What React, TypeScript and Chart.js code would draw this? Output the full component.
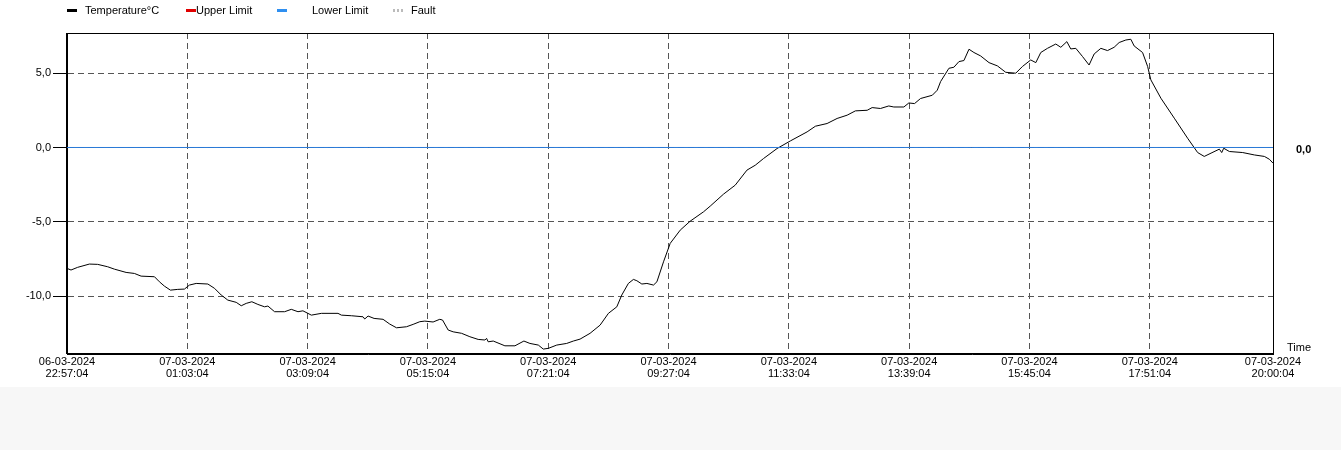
import React, { useEffect, useRef } from "react";
import { Chart, registerables } from "chart.js";

Chart.register(...registerables);

document.body.style.margin = "0";
document.body.style.background = "#f7f7f7";

const FONT = "Arial, 'Liberation Sans', sans-serif";

const tickMinutes = [0, 126, 252, 378, 504, 630, 756, 882, 1008, 1134, 1263];
const tickDates = [
  "06-03-2024", "07-03-2024", "07-03-2024", "07-03-2024", "07-03-2024", "07-03-2024",
  "07-03-2024", "07-03-2024", "07-03-2024", "07-03-2024", "07-03-2024",
];
const tickTimes = [
  "22:57:04", "01:03:04", "03:09:04", "05:15:04", "07:21:04", "09:27:04",
  "11:33:04", "13:39:04", "15:45:04", "17:51:04", "20:00:04",
];
const yTicks = [-10, -5, 0, 5];

// minutes since 06-03-2024 22:57:04
const minutes = [
  0, 4.2, 11.1, 23.4, 32.1, 42.6, 49.6, 61.9, 70.6, 77.6, 91.6, 96.8, 102.0, 108.3, 116.0, 123.0,
  128.2, 135.3, 147.5, 154.5, 161.5, 168.4, 177.2, 182.5, 187.7, 193.6, 199.9, 206.9, 210.4, 217.4,
  227.9, 234.9, 241.9, 247.1, 255.9, 266.4, 283.8, 287.4, 297.9, 310.0, 311.8, 315.3, 321.6, 331.0,
  338.0, 345.1, 355.5, 362.5, 369.5, 374.7, 383.4, 390.4, 393.3, 399.2, 404.4, 413.2, 421.9, 430.6,
  437.7, 439.4, 441.1, 446.4, 458.6, 469.1, 478.5, 484.8, 493.6, 498.8, 504.1, 512.9, 523.3, 530.3,
  537.3, 547.8, 558.3, 567.0, 575.8, 581.0, 587.9, 593.2, 596.8, 602.0, 607.3, 614.2, 617.8, 624.7,
  631.7, 642.2, 652.6, 666.6, 673.6, 687.6, 699.8, 712.1, 720.8, 729.5, 743.6, 757.5, 775.1, 783.8,
  796.0, 806.5, 817.0, 825.7, 838.0, 843.2, 851.9, 860.6, 865.9, 876.4, 881.6, 887.6, 893.9, 906.2,
  911.4, 914.9, 923.6, 928.8, 934.1, 939.3, 944.6, 949.8, 956.8, 965.6, 974.4, 983.1, 993.6, 1000.6,
  1009.3, 1014.6, 1019.8, 1026.8, 1035.5, 1040.8, 1047.1, 1051.2, 1056.5, 1063.5, 1070.4, 1075.7,
  1082.7, 1089.7, 1096.6, 1101.9, 1108.9, 1114.1, 1117.6, 1126.4, 1131.7, 1135.1, 1145.6, 1159.6,
  1173.6, 1184.1, 1191.0, 1198.1, 1206.8, 1209.3, 1211.4, 1217.3, 1231.3, 1243.5, 1254.0, 1259.2, 1263,
];
const temperature = [
  -8.12, -8.23, -8.05, -7.83, -7.85, -8.01, -8.17, -8.39, -8.46, -8.64, -8.68, -9.02, -9.31, -9.58, -9.53, -9.51,
  -9.24, -9.13, -9.17, -9.46, -9.91, -10.25, -10.40, -10.63, -10.47, -10.36, -10.54, -10.70, -10.65, -11.03,
  -11.03, -10.87, -11.03, -10.97, -11.26, -11.14, -11.14, -11.26, -11.30, -11.37, -11.52, -11.32, -11.48, -11.54,
  -11.86, -12.11, -12.04, -11.88, -11.70, -11.66, -11.72, -11.54, -11.59, -12.26, -12.38, -12.48, -12.71, -12.89,
  -12.93, -12.82, -13.05, -13.00, -13.32, -13.32, -13.00, -13.16, -13.27, -13.54, -13.49, -13.27, -13.16, -13.00,
  -12.87, -12.48, -11.93, -11.14, -10.70, -9.91, -9.13, -8.86, -8.95, -9.17, -9.13, -9.24, -9.02, -7.68,
  -6.44, -5.55, -4.95, -4.32, -3.94, -3.13, -2.53, -1.52, -1.19, -0.74, -0.07, 0.44, 1.05, 1.43,
  1.61, 1.95, 2.17, 2.46, 2.50, 2.68, 2.62, 2.79, 2.72, 2.72, 2.99, 2.95, 3.29, 3.51,
  3.85, 4.43, 5.32, 5.39, 5.77, 5.84, 6.60, 6.38, 6.15, 5.70, 5.48, 5.05, 4.99, 5.44,
  5.88, 5.70, 6.38, 6.66, 6.95, 6.73, 7.11, 6.62, 6.66, 6.11, 5.54, 6.28,
  6.66, 6.51, 6.73, 7.05, 7.22, 7.27, 6.82, 6.38, 5.44, 4.54, 3.31, 1.97,
  0.62, -0.34, -0.60, -0.38, -0.11, -0.34, -0.05, -0.27, -0.34, -0.50, -0.60, -0.79, -1.05,
];
const limitMinutes = [0, 1263];
const lowerLimit = [0, 0];
const upperLimit: number[] = [];
const fault: number[] = [];

const legendItems = [
  { label: "Temperature°C", color: "#000000", markerX: 67, textX: 85, kind: "solid" },
  { label: "Upper Limit", color: "#e00000", markerX: 186, textX: 196, kind: "solid" },
  { label: "Lower Limit", color: "#2f8ff0", markerX: 277, textX: 312, kind: "solid" },
  { label: "Fault", color: "#bbbbbb", markerX: 393, textX: 411, kind: "dotted" },
];

const framePlugin = {
  id: "frameAndLabels",
  afterDraw(chart: any) {
    const { ctx, chartArea, scales } = chart;
    ctx.save();
    ctx.strokeStyle = "#000";
    ctx.lineWidth = 1;
    ctx.setLineDash([]);
    const l = Math.round(chartArea.left) - 0.5;
    const t = Math.round(chartArea.top) + 0.5;
    const r = Math.floor(chartArea.right) + 0.5;
    const b = Math.round(chartArea.bottom) - 0.5;
    ctx.strokeRect(l, t, r - l, b - t);

    ctx.font = "11px " + FONT;
    ctx.textBaseline = "middle";
    ctx.textAlign = "left";
    for (const it of legendItems) {
      ctx.fillStyle = it.color;
      if (it.kind === "dotted") {
        for (let k = 0; k < 3; k++) ctx.fillRect(it.markerX + k * 4, 9, 2, 3);
      } else {
        ctx.fillRect(it.markerX, 9, 10, 3);
      }
      ctx.fillStyle = "#000";
      ctx.fillText(it.label, it.textX, 11);
    }

    const y0 = scales.y.getPixelForValue(0);
    ctx.font = "bold 11px " + FONT;
    ctx.fillText("0,0", 1296, y0 + 2);
    ctx.font = "11px " + FONT;
    ctx.fillText("Time", 1287, 348);
    ctx.restore();
  },
};

export default function App() {
  const ref = useRef<HTMLCanvasElement | null>(null);
  useEffect(() => {
    if (!ref.current) return;
    Chart.defaults.font.family = FONT;
    Chart.defaults.font.size = 11;
    const chart = new Chart(ref.current, {
      type: "line",
      data: {
        datasets: [
          {
            label: "Lower Limit",
            data: limitMinutes.map((m, i) => ({ x: m, y: lowerLimit[i] })),
            borderColor: "#2a7ad8",
            borderWidth: 1,
            pointRadius: 0,
          },
          {
            label: "Upper Limit",
            data: upperLimit.map((v, i) => ({ x: limitMinutes[i], y: v })),
            borderColor: "#e00000",
            borderWidth: 1,
            pointRadius: 0,
          },
          {
            label: "Fault",
            data: fault.map((v, i) => ({ x: limitMinutes[i], y: v })),
            borderColor: "#bbbbbb",
            borderDash: [2, 2],
            borderWidth: 1,
            pointRadius: 0,
          },
          {
            label: "Temperature°C",
            data: minutes.map((m, i) => ({ x: m, y: temperature[i] })),
            borderColor: "#000000",
            borderWidth: 1,
            pointRadius: 0,
            tension: 0,
          },
        ],
      },
      options: {
        animation: false,
        responsive: true,
        maintainAspectRatio: false,
        layout: { padding: { top: 33, right: 68, bottom: 0, left: 0 } },
        plugins: { legend: { display: false }, tooltip: { enabled: false } },
        scales: {
          x: {
            type: "linear",
            min: 0,
            max: 1263,
            afterBuildTicks: (s: any) => {
              s.ticks = tickMinutes.map((v) => ({ value: v }));
            },
            afterFit: (s: any) => {
              s.height = 33;
            },
            ticks: {
              autoSkip: false,
              maxRotation: 0,
              minRotation: 0,
              padding: 2,
              color: "#000",
              font: { size: 11, lineHeight: "12px" as any },
              callback: (v: any) => {
                const i = tickMinutes.indexOf(Number(v));
                return i >= 0 ? [tickDates[i], tickTimes[i]] : "";
              },
            },
            grid: {
              color: (c: any) =>
                c.index === 0 || c.index === tickMinutes.length - 1 ? "rgba(0,0,0,0)" : "#555",
              lineWidth: 1,
              drawTicks: false,
            },
            border: { display: true, color: "#000", width: 1, dash: [6, 4] },
          },
          y: {
            min: -13.87,
            max: 7.69,
            afterBuildTicks: (s: any) => {
              s.ticks = yTicks.map((v) => ({ value: v }));
            },
            afterFit: (s: any) => {
              s.width = 67;
            },
            ticks: {
              padding: 2,
              color: "#000",
              font: { size: 11 },
              callback: (v: any) => Number(v).toFixed(1).replace(".", ","),
            },
            grid: {
              color: "#555",
              lineWidth: 1,
              drawTicks: true,
              tickLength: 14,
              tickColor: "#000",
              tickBorderDash: [],
            },
            border: { display: true, color: "#000", width: 1, dash: [6, 4] },
          },
        },
      },
      plugins: [framePlugin],
    } as any);
    return () => chart.destroy();
  }, []);
  return (
    <div style={{ width: "100%", height: 387, background: "#fff", position: "relative" }}>
      <canvas ref={ref} />
    </div>
  );
}
